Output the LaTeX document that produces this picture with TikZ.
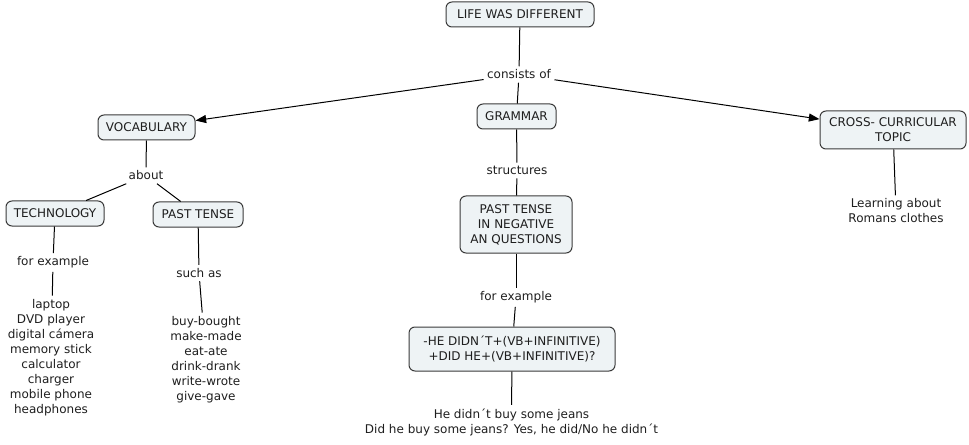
\documentclass[tikz,border=0pt]{standalone}
\usepackage{fontspec}
\setmainfont{DejaVu Sans}
\usetikzlibrary{arrows.meta}
\definecolor{boxfill}{HTML}{EEF3F5}
\definecolor{boxline}{HTML}{3A3A3A}
\definecolor{txt}{HTML}{1E1E1E}
\begin{document}
\begin{tikzpicture}[x=0.75pt,y=-0.75pt,
  font=\fontsize{9}{11.25}\selectfont, text=txt,
  concept/.style={draw=boxline, fill=boxfill, rounded corners=4.5pt, line width=0.75pt, align=center, inner sep=0pt},
  sz/.style 2 args={minimum width=#1*0.75pt, minimum height=#2*0.75pt},
  lbl/.style={align=center, inner sep=2.5pt},
  link/.style={draw=black, line width=0.75pt},
  arr/.style={link, -{Triangle[length=8pt,width=6pt]}}]
\useasboundingbox (0,0) rectangle (969,445);

% concepts
\node[concept, sz={148}{25}] (life) at (520,14.5) {LIFE WAS DIFFERENT};
\node[concept, sz={97}{25}] (vocab) at (146.5,127.5) {VOCABULARY};
\node[concept, sz={79}{25}] (grammar) at (516.5,116.5) {GRAMMAR};
\node[concept, sz={146}{38}] (cross) at (893,130) {CROSS- CURRICULAR\\TOPIC};
\node[concept, sz={98}{25}] (tech) at (55,213.5) {TECHNOLOGY};
\node[concept, sz={90}{25}] (past) at (198,214.5) {PAST TENSE};
\node[concept, sz={112}{57}] (ptneg) at (516,224.5) {PAST TENSE\\IN NEGATIVE\\AN QUESTIONS};
\node[concept, sz={206}{44}] (he) at (512,349) {-HE DIDN´T+(VB+INFINITIVE)\\+DID HE+(VB+INFINITIVE)?};

% linking phrases and leaf texts
\node[lbl] (consists) at (519,74.5) {consists of};
\node[lbl] (about) at (146,175.5) {about};
\node[lbl] (structures) at (517,170.5) {structures};
\node[lbl] (forex1) at (53,262.5) {for example};
\node[lbl] (suchas) at (199,273) {such as};
\node[lbl] (forex2) at (516,297.5) {for example};
\node[lbl] (learning) at (896,211) {Learning about\\Romans clothes};
\node[lbl] (techlist) at (51,357.5) {laptop\\DVD player\\digital cámera\\memory stick\\calculator\\charger\\mobile phone\\headphones};
\node[lbl] (pastlist) at (206,359.5) {buy-bought\\make-made\\eat-ate\\drink-drank\\write-wrote\\give-gave};
\node[lbl] (hetext) at (511.5,422) {He didn´t buy some jeans\\Did he buy some jeans? Yes, he did/No he didn´t};

% connectors
\draw[link] (life) -- (consists);
\draw[arr] (consists) -- (vocab);
\draw[arr] (consists) -- (cross);
\draw[link] (consists) -- (grammar);
\draw[link] (vocab) -- (about);
\draw[link] (about) -- (tech);
\draw[link] (about) -- (past);
\draw[link] (tech) -- (forex1);
\draw[link] (forex1) -- (techlist);
\draw[link] (past) -- (suchas);
\draw[link] (suchas) -- (pastlist);
\draw[link] (grammar) -- (structures);
\draw[link] (structures) -- (ptneg);
\draw[link] (ptneg) -- (forex2);
\draw[link] (forex2) -- (he);
\draw[link] (he) -- (hetext);
\draw[link] (cross) -- (learning);
\end{tikzpicture}
\end{document}
